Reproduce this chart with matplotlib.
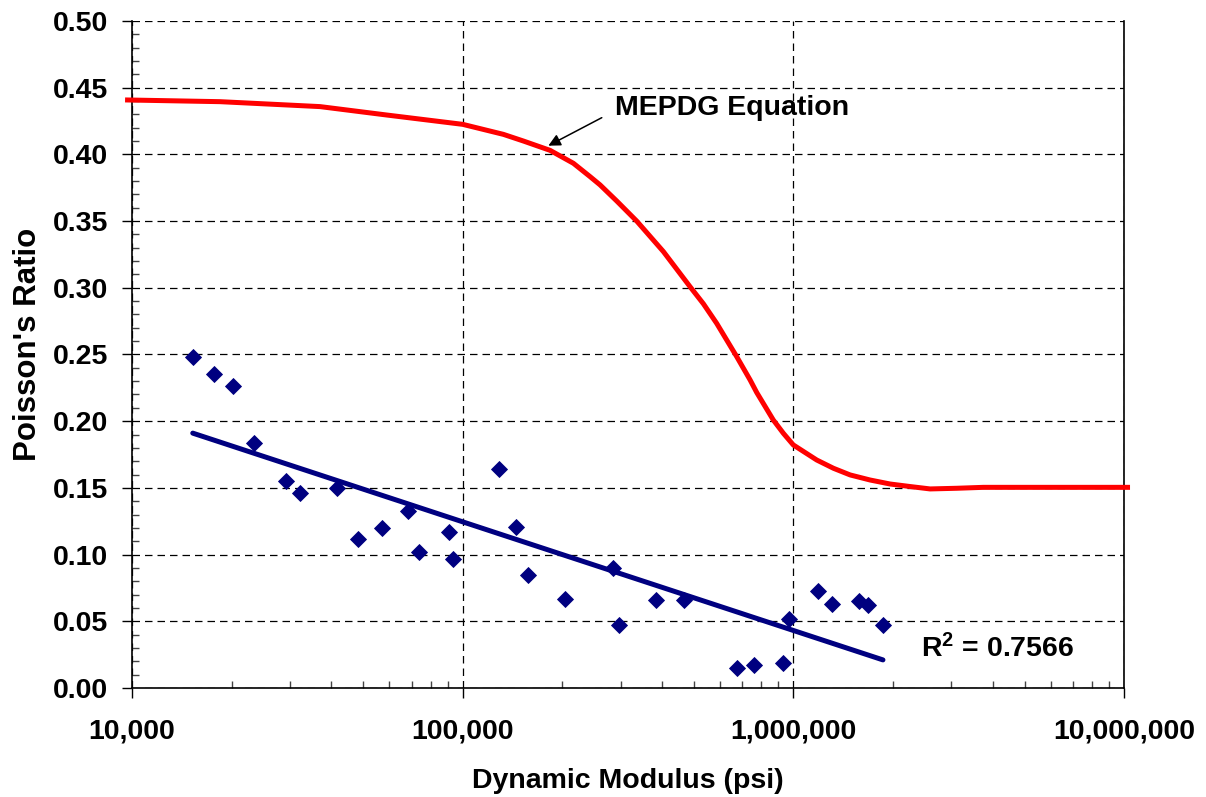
import numpy as np
import matplotlib
matplotlib.use("Agg")
import matplotlib.pyplot as plt
from matplotlib.ticker import FixedLocator, FuncFormatter, NullFormatter

# ---- data ----
modulus_psi = [15260, 17660, 20210, 23340, 29140, 32130, 41660, 48110, 57110, 68440,
               73620, 90650, 93210, 128770, 144900, 157600, 203500, 284200, 297700, 384300,
               465600, 673600, 761700, 932000, 969400, 1184000, 1305000, 1578000, 1676000, 1865000]
poisson = [0.248, 0.235, 0.226, 0.184, 0.155, 0.146, 0.150, 0.112, 0.120, 0.133,
           0.102, 0.117, 0.097, 0.164, 0.121, 0.085, 0.067, 0.090, 0.047, 0.066,
           0.066, 0.015, 0.017, 0.019, 0.052, 0.073, 0.063, 0.065, 0.062, 0.047]

mepdg_modulus = [9525, 18460, 37030, 58880, 100000, 132700, 152560, 183700, 216100, 242700,
                 260200, 292300, 335800, 404400, 486800, 534200, 586100, 673600, 739600,
                 774400, 869100, 932400, 998900, 1176000, 1321000, 1484000, 1705000,
                 1960000, 2253000, 2590000, 3119000, 3754000, 10420000]
mepdg_poisson = [0.4408, 0.4395, 0.4358, 0.4295, 0.4225, 0.4150, 0.4100, 0.4030, 0.3933, 0.3833,
                 0.3771, 0.3650, 0.3500, 0.3271, 0.3008, 0.2880, 0.2733, 0.2484, 0.2309,
                 0.2215, 0.2009, 0.1909, 0.1822, 0.1709, 0.1647, 0.1597, 0.1559,
                 0.1529, 0.1510, 0.1492, 0.1497, 0.1504, 0.1504]

x_ticks = [10000, 100000, 1000000, 10000000]
y_ticks = [0.00, 0.05, 0.10, 0.15, 0.20, 0.25, 0.30, 0.35, 0.40, 0.45, 0.50]
r2_label = "0.7566"
curve_label = "MEPDG Equation"

# ---- style ----
plt.rcParams['font.family'] = ['Liberation Sans', 'DejaVu Sans']
plt.rcParams['font.weight'] = 'bold'
plt.rcParams['mathtext.fontset'] = 'custom'
plt.rcParams['mathtext.rm'] = 'Liberation Sans:bold'
plt.rcParams['mathtext.bf'] = 'Liberation Sans:bold'
plt.rcParams['mathtext.it'] = 'Liberation Sans:bold'

FS = 20.5
navy = '#000080'

fig = plt.figure(figsize=(12.06, 7.97), dpi=100)
ax = fig.add_axes([0.1095, 0.1368, 0.8226, 0.8369])

ax.set_xscale('log')
ax.set_xlim(10000, 10000000)
ax.set_ylim(0, 0.5)

# grid
ax.xaxis.set_major_locator(FixedLocator(x_ticks))
ax.yaxis.set_major_locator(FixedLocator(y_ticks))
ax.yaxis.set_minor_locator(FixedLocator(np.round(np.arange(0, 0.5001, 0.01), 2)))
ax.grid(True, which='major', color='black', linestyle=(0, (6, 4)), linewidth=0.9)
ax.set_axisbelow(True)

ax.xaxis.set_major_formatter(FuncFormatter(lambda v, p: f"{int(round(v)):,}"))
ax.xaxis.set_minor_formatter(NullFormatter())
ax.yaxis.set_major_formatter(FuncFormatter(lambda v, p: f"{v:.2f}"))

ax.tick_params(axis='both', which='major', direction='out', length=7, width=1,
               labelsize=FS, colors='black')
ax.tick_params(axis='x', which='major', pad=15)
ax.tick_params(axis='y', which='major', pad=10)
ax.tick_params(axis='both', which='minor', direction='in', length=5, width=1, color='#444444')
for lab in ax.get_xticklabels() + ax.get_yticklabels():
    lab.set_fontweight('bold')

ax.spines['top'].set_visible(False)
for s in ['left', 'bottom', 'right']:
    ax.spines[s].set_color('black')
    ax.spines[s].set_linewidth(1.2)

# MEPDG curve
ax.plot(mepdg_modulus, mepdg_poisson, color='#FF0000', linewidth=3.6,
        solid_capstyle='butt', solid_joinstyle='round', clip_on=False, zorder=3)

# scatter data
ax.plot(modulus_psi, poisson, linestyle='none', marker='D', markersize=7.8,
        color=navy, markeredgecolor=navy, markeredgewidth=0.6, zorder=4)

# logarithmic trendline fitted to the data
lnE = np.log(np.array(modulus_psi, dtype=float))
slope, intercept = np.polyfit(lnE, np.array(poisson), 1)
x_fit = np.array([min(modulus_psi), max(modulus_psi)], dtype=float)
ax.plot(x_fit, slope * np.log(x_fit) + intercept, color=navy, linewidth=3.6,
        solid_capstyle='round', zorder=3)

# annotations
ax.annotate('', xy=(181500, 0.4065), xytext=(263300, 0.4275),
            arrowprops=dict(arrowstyle='-|>', color='black', lw=1.1,
                            mutation_scale=18, shrinkA=0, shrinkB=0))
ax.text(288900, 0.4348, curve_label, fontsize=FS, fontweight='bold',
        ha='left', va='center')
ax.text(2432000, 0.0292, r'$\mathbf{R^2}$ = ' + r2_label, fontsize=FS, fontweight='bold',
        ha='left', va='center')

ax.set_xlabel('Dynamic Modulus (psi)', fontsize=FS, fontweight='bold')
ax.set_ylabel("Poisson's Ratio", fontsize=22.5, fontweight='bold')
ax.xaxis.set_label_coords(0.5, -0.12)
ax.yaxis.set_label_coords(-0.09, 0.515)

fig.savefig('out.png', dpi=100)
